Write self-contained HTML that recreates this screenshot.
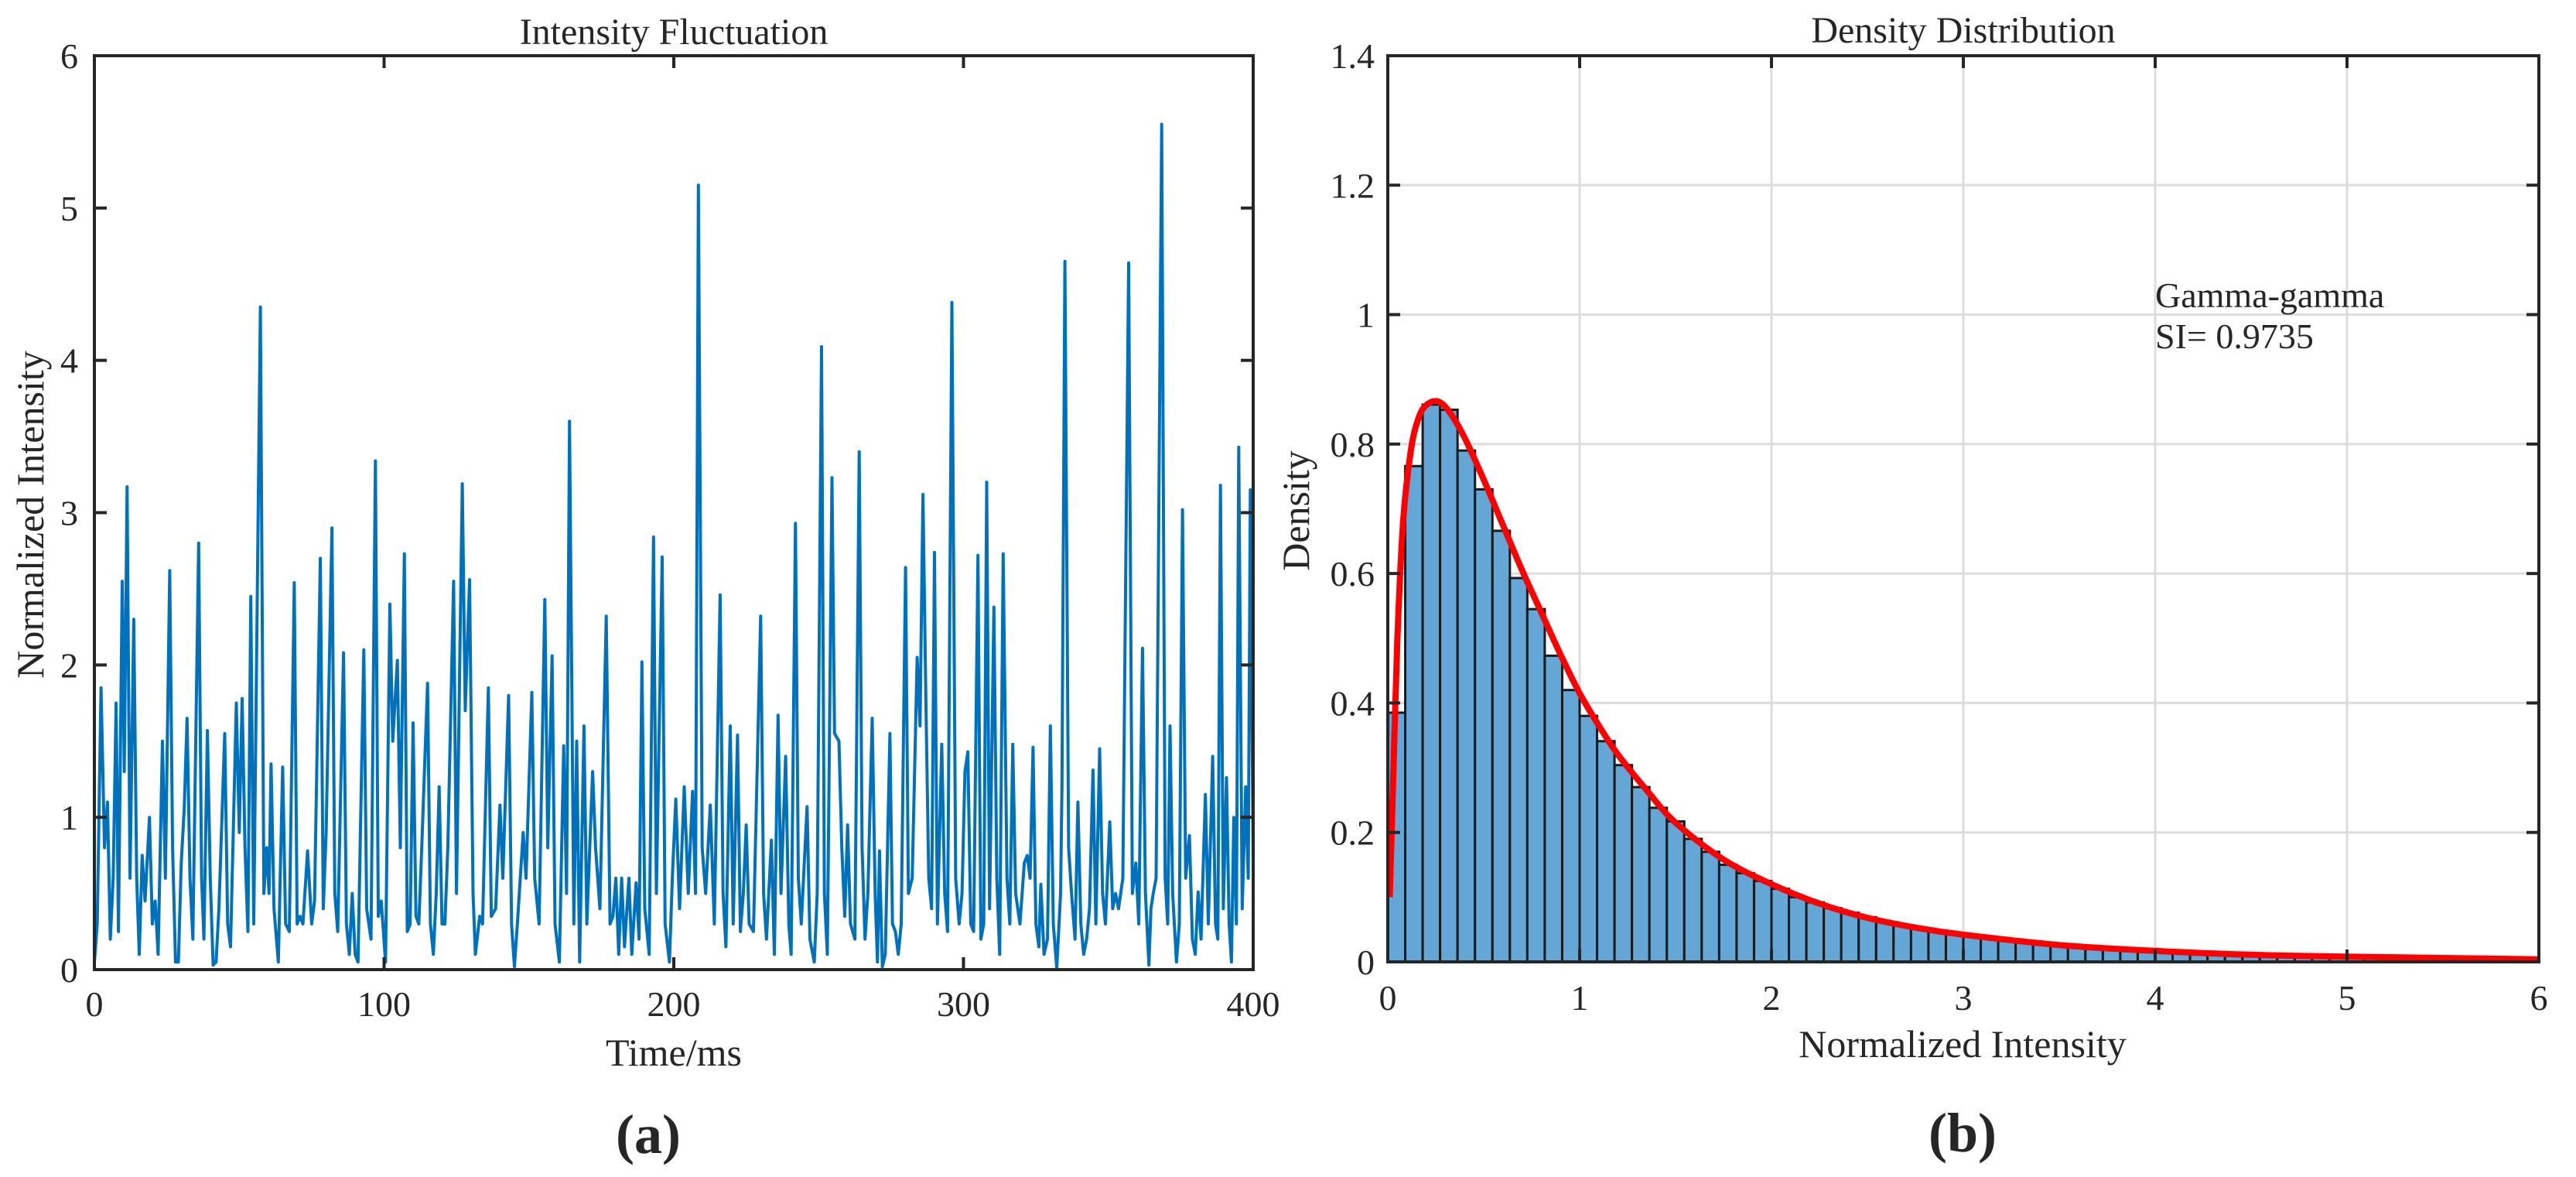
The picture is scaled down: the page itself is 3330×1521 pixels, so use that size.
<!DOCTYPE html>
<html><head><meta charset="utf-8"><style>
html,body{margin:0;padding:0;background:#fff}
svg{display:block}
text{font-family:"Liberation Serif",serif;fill:#262626}
</style></head><body>
<svg id="fig" width="3330" height="1521" viewBox="0 0 3330 1521" xmlns="http://www.w3.org/2000/svg">
<g id="pa"></g>
<g id="pb"></g>
</svg>
<script>
// Panel (a) data: time (ms) and normalized intensity
const timeMs = [0,1,2.3,3.5,4.5,5.5,6.5,7.5,8.3,9.6,10.3,11.3,12.3,13.6,14.6,15.5,16.5,17.5,19,20,21,22,23.5,24.5,26,27,28,29,30,31,32,33,34,36,37,37.8,39,40,41,42,43,45,46,47,49,50,51,52,53,54,55,57.3,58.5,59.5,60.3,61,62,63.5,65,66,67.3,69,70,71,72,73.6,75,76,78,79,80,82,83,84,86,87,88,89,90,91,93,94,95.5,97,98,99,100.5,102,103,104.6,105.6,107,108,109,110,111,112,113,115,116,117,118,119,120,121,122,124,125,127,128,129.5,130.7,131.5,133,134,136,137,138.5,140,141,143,144,145,146,148,149,151,152,153.5,155.5,156.5,158,159,160.5,162,163,164,165.5,166.5,167.5,169,170,172,173,174.5,176.7,178,179,180,181,182,183,184.5,185.5,187,188,189,190,191.5,193,194,196,197,198.5,199.5,200.7,202,203.6,205,206.5,207.5,208.5,209.8,211,212.6,214,216,217,218,219.5,220.5,222,223,224,225,226,227.5,230,231,232,233.7,234.7,236,237,238.6,239.7,240.5,242,243,244,246,247,248.5,249.5,251,252,253,254.6,255.5,257,258,259,260,261,262.5,264,265,266,267,268.5,269.5,270.3,271,272,273,274.6,275.5,276.5,277.5,278.5,280,281,282.3,284,285,286,287,288,289,290,291,292.5,293.5,294.5,296,297.3,298.5,299.5,300.5,301.5,302.5,303.5,305,306,307,308,309,310.5,311.5,312.5,313.7,315,316,317,318,319.5,321,322,323,324,325,326,326.7,327.8,329,330,331,332.2,333.5,334,335,336.3,337.3,338.5,339.5,340.5,341.5,342.5,343.5,344.7,345.7,347,348,349,350.5,351.5,352.5,353.5,355,357,358.3,359.5,360.5,361.8,362.8,364,364.7,365.5,366.5,368.4,369.6,370.5,371.3,372.2,373.5,374.5,375.6,376.7,378,379,380,381,382,383.5,384.5,386,387,387.8,388.7,389.7,390.8,391.7,392.5,393.3,394.2,395,396.2,397.4,398.3,399,400];
const intensity = [0.05,0.3,1.85,0.8,1.1,0.2,0.6,1.75,0.25,2.55,1.3,3.17,0.6,2.3,0.6,0.1,0.75,0.45,1.0,0.3,0.45,0.1,1.5,0.6,2.62,0.8,0.05,0.05,0.7,1.05,1.65,0.6,0.2,2.8,0.6,0.2,1.57,0.6,0.03,0.05,0.4,1.55,0.3,0.15,1.75,0.9,1.78,0.8,0.25,2.45,0.3,4.35,0.5,0.8,0.5,1.35,0.4,0.05,1.33,0.3,0.25,2.54,0.3,0.35,0.3,0.78,0.3,0.45,2.7,0.4,0.9,2.9,0.5,0.25,2.08,0.3,0.1,0.5,0.1,0.05,2.1,0.4,0.2,3.34,0.35,0.45,0.05,2.4,1.5,2.03,0.8,2.73,0.25,0.3,1.62,0.35,0.3,0.8,1.88,0.3,0.1,0.5,1.2,0.3,0.3,0.8,2.55,0.5,3.19,1.7,2.56,0.5,0.1,0.35,0.3,1.85,0.35,0.4,1.08,0.6,1.8,0.3,0.02,0.3,0.9,0.6,1.82,0.6,0.3,2.43,0.8,2.06,0.3,0.05,1.47,0.5,3.6,0.3,1.5,0.05,1.6,0.3,1.3,0.8,0.4,2.32,0.3,0.35,0.6,0.1,0.6,0.15,0.6,0.1,0.57,0.2,2.02,0.4,0.1,2.84,0.5,2.71,0.3,0.05,0.6,1.12,0.4,1.2,0.5,1.17,0.5,5.15,0.8,0.5,1.08,0.3,2.46,0.5,0.15,1.6,0.3,1.54,0.25,0.5,0.95,0.3,0.25,2.32,0.5,0.2,0.85,0.1,1.67,0.5,1.4,0.3,0.1,2.93,0.6,0.3,1.07,0.2,0.05,0.5,4.09,0.5,0.1,3.23,1.55,1.5,0.8,0.35,0.95,0.3,0.2,3.4,0.8,0.2,0.5,1.65,0.5,0.05,0.78,0.02,0.1,1.55,0.3,0.25,0.1,0.3,2.64,0.5,0.6,2.05,1.6,3.12,1.8,0.6,0.4,2.74,0.3,1.48,0.5,0.25,4.38,0.6,0.3,0.5,1.3,1.43,0.3,0.25,2.72,0.2,0.3,3.2,0.4,2.38,0.6,0.1,2.73,0.6,0.3,1.48,0.5,0.3,0.7,0.75,0.6,1.46,0.3,0.15,0.56,0.1,0.2,1.6,0.3,0.01,0.5,1.2,4.65,0.8,0.5,0.2,1.1,0.3,0.1,0.2,0.4,1.31,0.3,1.45,0.5,0.3,0.97,0.4,0.5,0.4,0.6,4.64,0.5,0.7,0.3,2.11,0.5,0.03,0.4,0.5,0.6,5.55,0.6,0.3,1.6,0.5,0.05,0.3,3.02,0.6,0.88,0.2,0.1,0.51,0.2,1.15,0.3,1.4,0.3,0.2,3.18,0.4,1.26,0.3,0.05,1.0,0.3,3.43,0.4,1.2,0.6,3.15,0.7];
const aXTicks = [0,100,200,300,400];
const aYTicks = [0,1,2,3,4,5,6];

// Panel (b) data
const binWidth = 6/66;
const binDensity = [0.385,0.766,0.861,0.853,0.79,0.73,0.666,0.593,0.545,0.473,0.42,0.38,0.341,0.304,0.27,0.238,0.217,0.19,0.17,0.15,0.137,0.125,0.113,0.10,0.092,0.083,0.076,0.069,0.062,0.057,0.052,0.047,0.043,0.039,0.036,0.033,0.03,0.027,0.025,0.023,0.021,0.019,0.017,0.016,0.015,0.014,0.013,0.012,0.011,0.010,0.009,0.009,0.008,0.008,0.007,0.007,0.006,0.006,0.005,0.005,0.005,0.004,0.004,0.004,0.003,0.003];
const fitX = [0.01,0.03,0.05,0.08,0.12,0.16,0.2,0.26,0.32,0.4,0.5,0.6,0.7,0.8,0.9,1.0,1.1,1.2,1.35,1.5,1.75,2.0,2.25,2.5,2.75,3.0,3.5,4.0,4.5,5.0,5.5,6.0];
const fitY = [0.10,0.30,0.50,0.68,0.79,0.84,0.86,0.866,0.85,0.81,0.745,0.675,0.605,0.54,0.475,0.415,0.365,0.32,0.265,0.215,0.158,0.12,0.09,0.068,0.053,0.042,0.026,0.017,0.011,0.008,0.006,0.004];
const bXTicks = [0,1,2,3,4,5,6];
const bYTicks = [0,0.2,0.4,0.6,0.8,1,1.2,1.4];
const bYLabels = ["0","0.2","0.4","0.6","0.8","1","1.2","1.4"];

const NS = "http://www.w3.org/2000/svg";
function mk(parent, tag, attrs, txt){
  const e = document.createElementNS(NS, tag);
  for (const k in attrs) e.setAttribute(k, attrs[k]);
  if (txt !== undefined) e.textContent = txt;
  parent.appendChild(e);
  return e;
}

// ---------- Panel A ----------
const pa = document.getElementById('pa');
const A = {l:122, r:1620, t:72, b:1253};
const ax = v => A.l + (v-0)/(400-0)*(A.r-A.l);
const ay = v => A.b - (v-0)/(6-0)*(A.b-A.t);
let d = "";
for (let i=0;i<timeMs.length;i++) d += (i?"L":"M") + ax(timeMs[i]).toFixed(1) + " " + ay(intensity[i]).toFixed(1);
const clipA = mk(pa,'clipPath',{id:'clipA'});
mk(clipA,'rect',{x:A.l,y:A.t,width:A.r-A.l,height:A.b-A.t});
let ln = mk(pa,'path',{d:d,fill:'none',stroke:'#0072BD','stroke-width':4,'stroke-linejoin':'round','clip-path':'url(#clipA)'});


let box = mk(pa,'rect',{x:A.l,y:A.t,width:A.r-A.l,height:A.b-A.t,fill:'none',stroke:'#262626','stroke-width':4});


aXTicks.forEach(v=>{
  const x = ax(v);
  mk(pa,'line',{x1:x,y1:A.b,x2:x,y2:A.b-16,stroke:'#262626','stroke-width':4});
  mk(pa,'line',{x1:x,y1:A.t,x2:x,y2:A.t+16,stroke:'#262626','stroke-width':4});
  const t = mk(pa,'text',{x:x,y:1313,'font-size':46,'text-anchor':'middle'},String(v));
  
  
});
aYTicks.forEach(v=>{
  const y = ay(v);
  mk(pa,'line',{x1:A.l,y1:y,x2:A.l+16,y2:y,stroke:'#262626','stroke-width':4});
  mk(pa,'line',{x1:A.r,y1:y,x2:A.r-16,y2:y,stroke:'#262626','stroke-width':4});
  const t = mk(pa,'text',{x:101,y:y+16,'font-size':46,'text-anchor':'end'},String(v));
  
  
});
let tt = mk(pa,'text',{x:871,y:57,'font-size':48,'text-anchor':'middle'},'Intensity Fluctuation');


tt = mk(pa,'text',{x:871,y:1377,'font-size':50,'text-anchor':'middle'},'Time/ms');


tt = mk(pa,'text',{x:0,y:0,'font-size':50,'text-anchor':'middle',transform:'translate(56,665) rotate(-90)'},'Normalized Intensity');


tt = mk(pa,'text',{x:838,y:1490,'font-size':72,'font-weight':'bold','text-anchor':'middle'},'(a)');



// ---------- Panel B ----------
const pb = document.getElementById('pb');
const B = {l:1794, r:3282, t:72, b:1243};
const bx = v => B.l + (v-0)/(6-0)*(B.r-B.l);
const by = v => B.b - (v-0)/(1.4-0)*(B.b-B.t);
bXTicks.forEach(v=>{
  const g = mk(pb,'line',{x1:bx(v),y1:B.t,x2:bx(v),y2:B.b,stroke:'#dcdcdc','stroke-width':3});
  
  
});
bYTicks.forEach(v=>{
  const g = mk(pb,'line',{x1:B.l,y1:by(v),x2:B.r,y2:by(v),stroke:'#dcdcdc','stroke-width':3});
  
  
});
binDensity.forEach((h,i)=>{
  const x0 = bx(i*binWidth), x1 = bx((i+1)*binWidth);
  const r = mk(pb,'rect',{x:x0,y:by(h),width:x1-x0,height:by(0)-by(h),fill:'#64a7d6',stroke:'#1a1a1a','stroke-width':3});
  
  
});
// smooth fit curve (Catmull-Rom)
const pts = fitX.map((x,i)=>[bx(x),by(fitY[i])]);
let cd = "M"+pts[0][0]+" "+pts[0][1];
for (let i=0;i<pts.length-1;i++){
  const p0=pts[Math.max(0,i-1)],p1=pts[i],p2=pts[i+1],p3=pts[Math.min(pts.length-1,i+2)];
  const c1=[p1[0]+(p2[0]-p0[0])/6,p1[1]+(p2[1]-p0[1])/6];
  const c2=[p2[0]-(p3[0]-p1[0])/6,p2[1]-(p3[1]-p1[1])/6];
  cd += "C"+c1[0].toFixed(1)+" "+c1[1].toFixed(1)+" "+c2[0].toFixed(1)+" "+c2[1].toFixed(1)+" "+p2[0].toFixed(1)+" "+p2[1].toFixed(1);
}
let fc = mk(pb,'path',{d:cd,fill:'none',stroke:'#ff0000','stroke-width':8,'stroke-linejoin':'round'});


box = mk(pb,'rect',{x:B.l,y:B.t,width:B.r-B.l,height:B.b-B.t,fill:'none',stroke:'#262626','stroke-width':4});


bXTicks.forEach(v=>{
  const x = bx(v);
  mk(pb,'line',{x1:x,y1:B.b,x2:x,y2:B.b-16,stroke:'#262626','stroke-width':4});
  mk(pb,'line',{x1:x,y1:B.t,x2:x,y2:B.t+16,stroke:'#262626','stroke-width':4});
  const t = mk(pb,'text',{x:x,y:1305,'font-size':46,'text-anchor':'middle'},String(v));
  
  
});
bYTicks.forEach((v,i)=>{
  const y = by(v);
  mk(pb,'line',{x1:B.l,y1:y,x2:B.l+16,y2:y,stroke:'#262626','stroke-width':4});
  mk(pb,'line',{x1:B.r,y1:y,x2:B.r-16,y2:y,stroke:'#262626','stroke-width':4});
  const t = mk(pb,'text',{x:1777,y:y+16,'font-size':46,'text-anchor':'end'},bYLabels[i]);
  
  
});
tt = mk(pb,'text',{x:2538,y:55,'font-size':48,'text-anchor':'middle'},'Density Distribution');


tt = mk(pb,'text',{x:2537,y:1366,'font-size':50,'text-anchor':'middle'},'Normalized Intensity');


tt = mk(pb,'text',{x:0,y:0,'font-size':50,'text-anchor':'middle',transform:'translate(1692,660) rotate(-90)'},'Density');


tt = mk(pb,'text',{x:2786,y:397,'font-size':46},'Gamma-gamma');


tt = mk(pb,'text',{x:2786,y:450,'font-size':46},'SI= 0.9735');


tt = mk(pb,'text',{x:2537,y:1488,'font-size':72,'font-weight':'bold','text-anchor':'middle'},'(b)');


</script>
</body></html>
